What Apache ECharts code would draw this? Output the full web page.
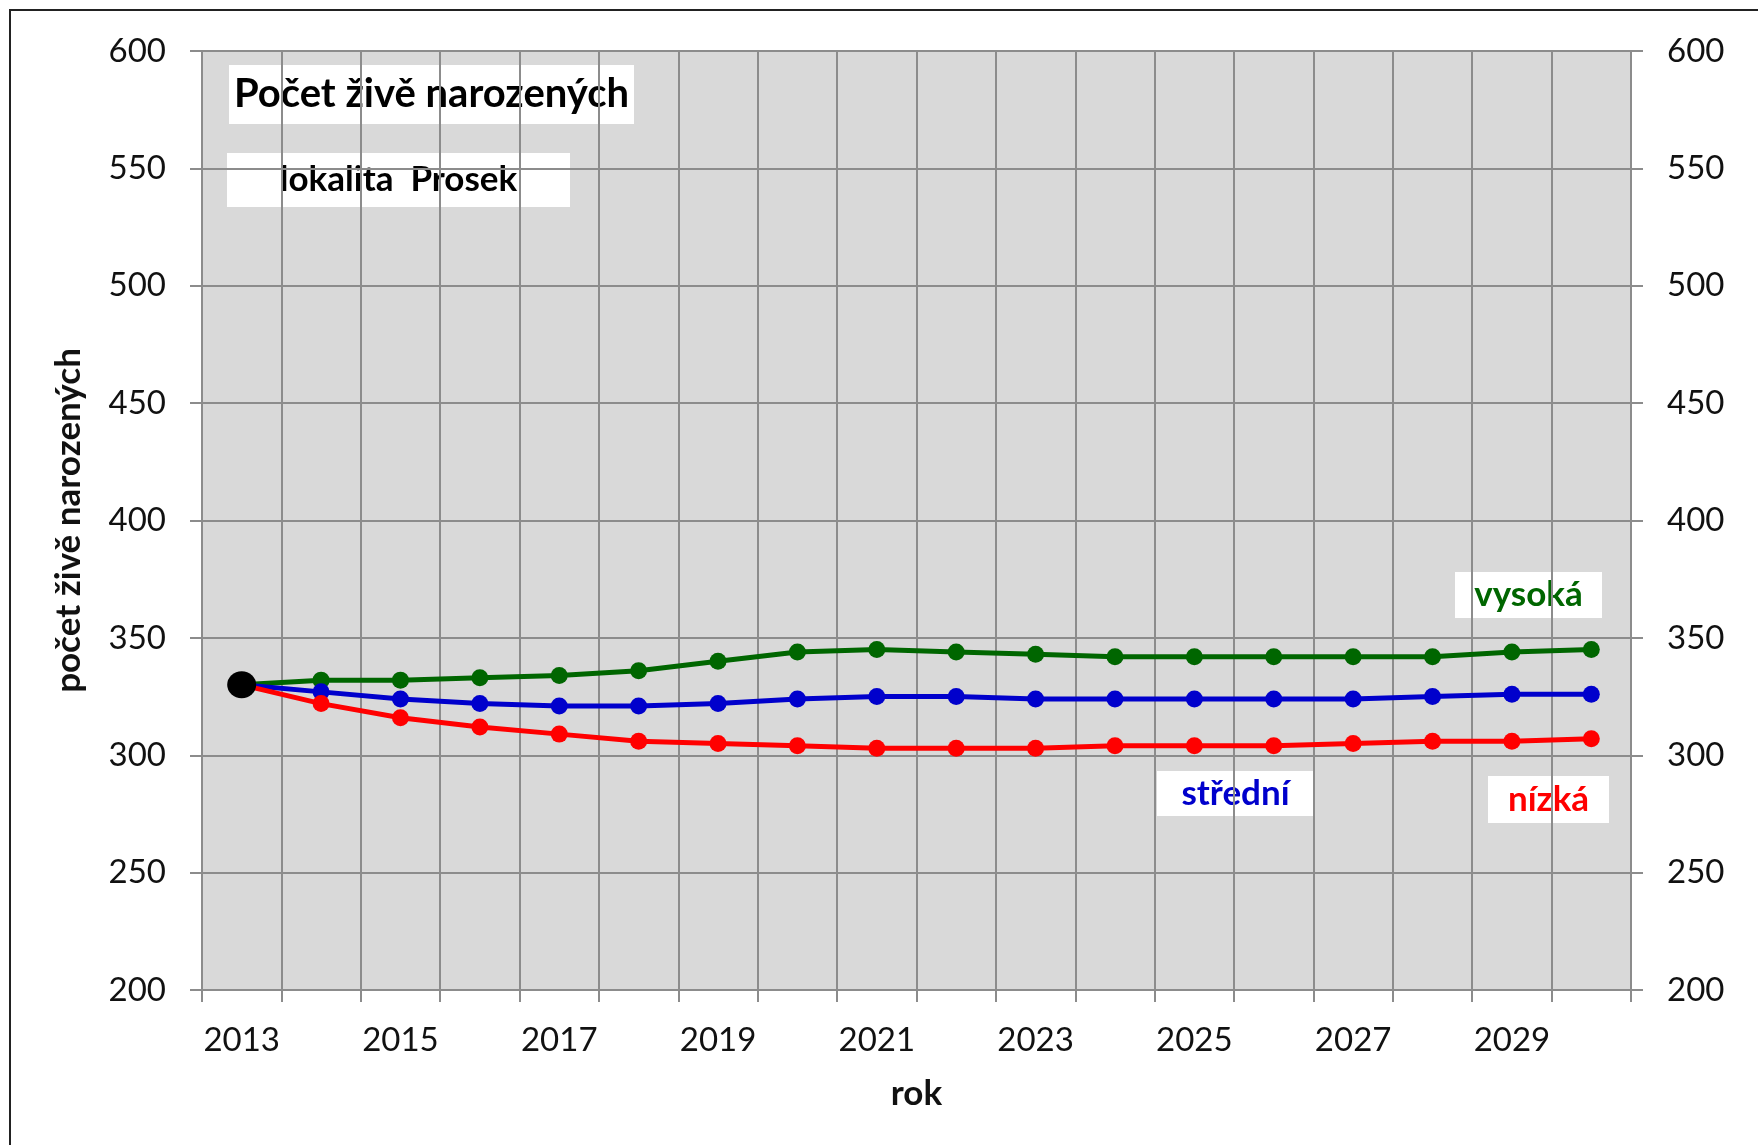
<!DOCTYPE html>
<html>
<head>
<meta charset="utf-8">
<script src="https://cdn.jsdelivr.net/npm/echarts@6/dist/echarts.min.js"></script>
<style>
  html, body { margin: 0; padding: 0; background: #fff; }
  #chart { width: 1758px; height: 1145px; }
</style>
</head>
<body>
<div id="chart"></div>
<script>
// roky
const years = ['2013', '2014', '2015', '2016', '2017', '2018', '2019', '2020', '2021',
  '2022', '2023', '2024', '2025', '2026', '2027', '2028', '2029', '2030']

// varianty projekce
const vysoka = [330, 332, 332, 333, 334, 336, 340, 344, 345, 344, 343, 342, 342, 342, 342, 342, 344, 345]
const stredni = [330, 327, 324, 322, 321, 321, 322, 324, 325, 325, 324, 324, 324, 324, 324, 325, 326, 326]
const nizka = [330, 322, 316, 312, 309, 306, 305, 304, 303, 303, 303, 304, 304, 304, 305, 306, 306, 307]
// vychozi skutecnost
const skutecnost = [330]

const FONT = 'Lato'
const gridColor = '#8c8c8c'

const chart = echarts.init(document.getElementById('chart'))

const yAxisBase = {
  type: 'value',
  min: 200,
  max: 600,
  interval: 50,
  axisLine: { show: false },
  axisTick: { show: true, length: 12, lineStyle: { color: gridColor, width: 2 } },
  axisLabel: { color: '#111', fontFamily: FONT, fontSize: 33, margin: 36 }
}

const lineSeries = (name, data, color) => ({
  name: name,
  type: 'line',
  data: data,
  symbol: 'circle',
  symbolSize: 17,
  lineStyle: { color: color, width: 5 },
  itemStyle: { color: color },
  z: 3
})

const labelBox = (x, y, w, h, text, color, size) => ({
  type: 'group',
  left: x,
  top: y,
  z: 100,
  children: [
    { type: 'rect', shape: { x: 0, y: 0, width: w, height: h }, style: { fill: '#fff' } },
    {
      type: 'text',
      x: w / 2,
      y: h / 2,
      style: {
        text: text,
        fill: color,
        font: 'bold ' + size + 'px ' + FONT,
        align: 'center',
        verticalAlign: 'middle'
      }
    }
  ]
})

const option = {
  backgroundColor: '#fff',
  animation: false,
  grid: {
    left: 202,
    right: 127,
    top: 51,
    bottom: 155,
    show: true,
    backgroundColor: '#d9d9d9',
    borderWidth: 0
  },
  xAxis: {
    type: 'category',
    data: years,
    boundaryGap: true,
    name: 'rok',
    nameLocation: 'middle',
    nameGap: 86,
    nameTextStyle: { color: '#111', fontFamily: FONT, fontSize: 35, fontWeight: 'bold' },
    axisLine: { show: true, lineStyle: { color: gridColor, width: 2 } },
    axisTick: { show: true, interval: 0, length: 12, lineStyle: { color: gridColor, width: 2 } },
    axisLabel: { interval: 1, color: '#111', fontFamily: FONT, fontSize: 33, margin: 34 },
    splitLine: { show: true, interval: 0, lineStyle: { color: gridColor, width: 2 } }
  },
  yAxis: [
    Object.assign({}, yAxisBase, {
      position: 'left',
      name: 'počet živě narozených',
      nameLocation: 'middle',
      nameGap: 116,
      nameRotate: 90,
      nameTextStyle: { color: '#111', fontFamily: FONT, fontSize: 35, fontWeight: 'bold' },
      splitLine: { show: true, lineStyle: { color: gridColor, width: 2 } }
    }),
    Object.assign({}, yAxisBase, {
      position: 'right',
      splitLine: { show: false }
    })
  ],
  series: [
    lineSeries('vysoká', vysoka, '#006600'),
    lineSeries('střední', stredni, '#0000cc'),
    lineSeries('nízká', nizka, '#ff0000'),
    {
      name: 'skutečnost',
      type: 'scatter',
      data: skutecnost,
      symbol: 'circle',
      symbolSize: [29, 27],
      itemStyle: { color: '#000', opacity: 1 },
      z: 5
    }
  ],
  graphic: [
    {
      type: 'rect',
      shape: { x: 10, y: 10, width: 1800, height: 1200 },
      style: { fill: null, stroke: '#222', lineWidth: 2 },
      z: 200
    },
    labelBox(229, 65, 405, 59, 'Počet živě narozených', '#000', 40),
    labelBox(227, 153, 343, 54, 'lokalita  Prosek', '#000', 35),
    labelBox(1455, 572, 147, 46, 'vysoká', '#006600', 35),
    labelBox(1157, 771, 157, 45, 'střední', '#0000cc', 35),
    labelBox(1488, 776, 121, 47, 'nízká', '#ff0000', 35)
  ]
}

chart.setOption(option)
</script>
</body>
</html>
